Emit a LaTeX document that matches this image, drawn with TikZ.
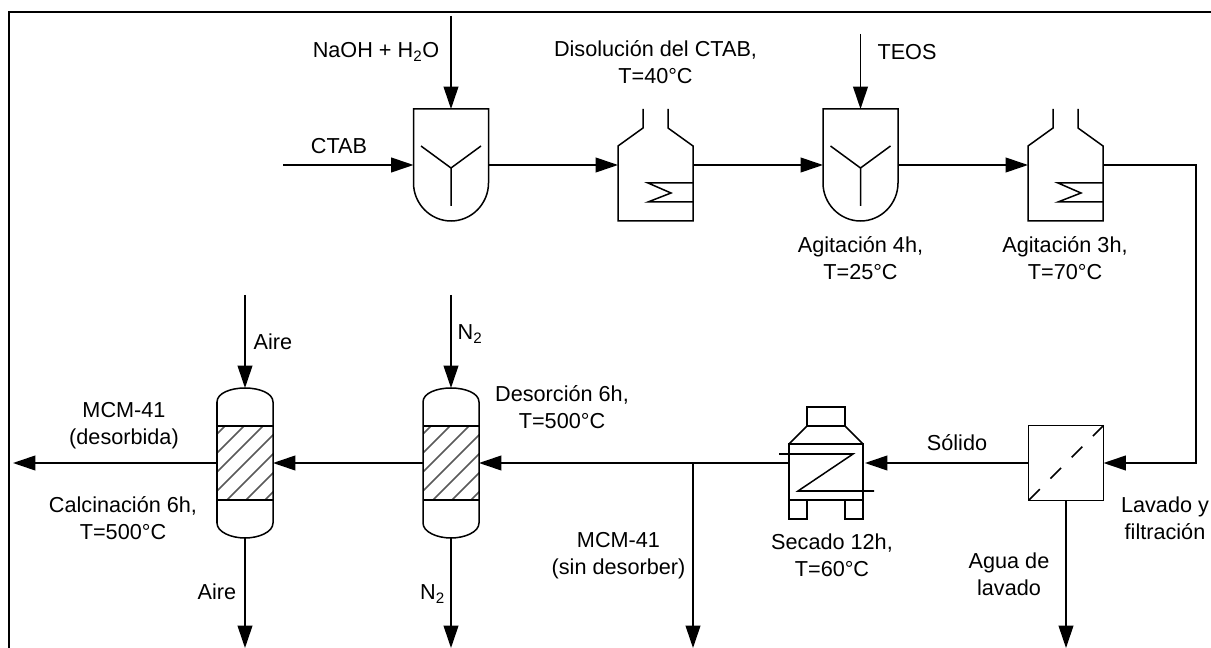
\documentclass[tikz,border=0pt]{standalone}
\usepackage{fontspec}
\setmainfont{Liberation Sans}
\usetikzlibrary{arrows.meta}
\tikzset{
  unit/.style={inner sep=0pt,outer sep=0pt,minimum width=#1*0.025cm,minimum height=#1*0.025cm},
  vert/.style={inner sep=0pt,outer sep=0pt,minimum width=#1*0.025cm,minimum height=112*0.025cm},
  tall/.style={inner sep=0pt,outer sep=0pt,minimum width=56*0.025cm,minimum height=150*0.025cm},
  stream/.style={-{Triangle[length=5.6mm,width=3.7mm]}},
  lbl/.style={align=center,inner sep=0pt,font=\fontsize{15.4}{19.2}\selectfont},
  pics/mixerpic/.style={code={
    \draw (-37.5,-56) -- (37.5,-56) -- (37.5,18)
      .. controls (37.5,38.7) and (20.7,56) .. (0,56)
      .. controls (-20.7,56) and (-37.5,38.7) .. (-37.5,18) -- cycle;
    \draw (-30,-19) -- (0,3) -- (30,-19) (0,3) -- (0,41);
  }},
  pics/vesselpic/.style={code={
    \draw (-12.5,-56) -- (-12.5,-37) -- (-37.5,-19) -- (-37.5,56) -- (37.5,56)
      -- (37.5,-19) -- (12.5,-37) -- (12.5,-56);
    \draw (37.5,18) -- (-7.5,18) -- (15.5,28) -- (-7.5,37) -- (37.5,37);
  }},
  pics/columnpic/.style={code={
    \begin{scope}
      \clip (-28,-37) rectangle (28,37);
      \foreach \k in {-57,-38,-19,0,19,38,57}
        \draw[gray!70!black] (\k-40,40) -- (\k+40,-40);
    \end{scope}
    \draw (-28,-61) .. controls (-28,-70) and (-14,-75) .. (0,-75)
      .. controls (14,-75) and (28,-70) .. (28,-61) -- (28,60)
      .. controls (28,69) and (14,75) .. (0,75)
      .. controls (-14,75) and (-28,69) .. (-28,60) -- cycle;
    \draw (-28,-37) -- (28,-37) (-28,37) -- (28,37);
  }},
  pics/dryerpic/.style={code={
    \draw (-37,-19) rectangle (37,37);
    \draw (-37,-19) -- (-19,-37) -- (19,-37) -- (37,-19);
    \draw (-19,-37) rectangle (19,-56);
    \draw (-37,37) rectangle (-19,56) (19,37) rectangle (37,56);
    \draw (-47,-9) -- (27,-9) -- (-28,28) -- (48,28);
  }},
  pics/filterpic/.style={code={
    \draw (-37.5,-37.5) rectangle (37.5,37.5);
    \draw[dash pattern=on 0.375cm off 0.375cm] (37.5,-37.5) -- (-37.5,37.5);
  }}
}

\begin{document}
\begin{tikzpicture}[x=0.025cm,y=-0.025cm,line width=1.07pt]
\useasboundingbox (0,0) rectangle (1211,648);
\draw[line width=1.8pt] (9,648) -- (9,12) -- (1211,12);

% equipment
\node[vert=75] (mix1) at (451,165) {};
\node[vert=75] (ves1) at (655.5,165) {};
\node[vert=75] (mix2) at (860.5,165) {};
\node[vert=75] (ves2) at (1065.5,165) {};
\node[unit=75] (filt) at (1066,463) {};
\node[vert=74] (dry) at (826,463) {};
\node[tall] (col2) at (451,463) {};
\node[tall] (col1) at (245,463) {};
\pic at (mix1) {mixerpic};
\pic at (ves1) {vesselpic};
\pic at (mix2) {mixerpic};
\pic at (ves2) {vesselpic};
\pic at (filt) {filterpic};
\pic at (dry) {dryerpic};
\pic at (col2) {columnpic};
\pic at (col1) {columnpic};

% free ends
\coordinate (naoh) at (451,16);
\coordinate (ctab) at (283,165);
\coordinate (teos) at (860.5,34);
\coordinate (corner1) at (1196,165);
\coordinate (corner2) at (1196,463);
\coordinate (n2in) at (451,295);
\coordinate (airein) at (245,295);
\coordinate (branch) at (693,463);
\coordinate (prod1) at (13,463);
\coordinate (aireout) at (245,648);
\coordinate (n2out) at (451,648);
\coordinate (prod2) at (693,648);
\coordinate (water) at (1066,648);

\draw[stream] (naoh) -- (mix1.north);
\draw[stream] (ctab) -- (mix1.west);
\draw[stream] (mix1.east) -- (ves1.west);
\draw[stream] (ves1.east) -- (mix2.west);
\draw[stream] (teos) -- (mix2.north);
\draw[stream] (mix2.east) -- (ves2.west);
\draw[stream] (ves2.east) -- (corner1) -- (corner2) -- (filt.east);
\draw[stream,shorten >=0.05cm] (filt.west) -- (dry.east);
\draw[stream] (dry.west) -- (col2.east);
\draw[stream] (col2.west) -- (col1.east);
\draw[stream] (col1.west) -- (prod1);
\draw[stream] (n2in) -- (col2.north);
\draw[stream] (airein) -- (col1.north);
\draw[stream] (col1.south) -- (aireout);
\draw[stream] (col2.south) -- (n2out);
\draw[stream] (branch) -- (prod2);
\draw[stream] (filt.south) -- (water);

% labels
\node[lbl] (lnaoh) at (376,52) {NaOH + H\textsubscript{2}O};
\node[lbl] (lctab) at (339,146) {CTAB};
\node[lbl] (ldis) at (655.5,62.5) {Disolución del CTAB,\\T=40°C};
\node[lbl] (lteos) at (907,52) {TEOS};
\node[lbl] (lag4) at (860.5,258) {Agitación 4h,\\T=25°C};
\node[lbl] (lag3) at (1065,258.5) {Agitación 3h,\\T=70°C};
\node[lbl] (laire1) at (273,342) {Aire};
\node[lbl] (ln21) at (470,334) {N\textsubscript{2}};
\node[lbl] (ldes) at (562,407) {Desorción 6h,\\T=500°C};
\node[lbl] (lmcm1) at (124,425.5) {MCM-41\\(desorbida)};
\node[lbl] (lcal) at (123,518) {Calcinación 6h,\\T=500°C};
\node[lbl] (laire2) at (217,592) {Aire};
\node[lbl] (ln22) at (432.5,594) {N\textsubscript{2}};
\node[lbl] (lmcm2) at (618.5,556) {MCM-41\\(sin desorber)};
\node[lbl] (lsec) at (832,555.5) {Secado 12h,\\T=60°C};
\node[lbl] (lsol) at (957,443) {Sólido};
\node[lbl] (llav) at (1165,518.5) {Lavado y\\filtración};
\node[lbl] (lagua) at (1009,574) {Agua de\\lavado};
\end{tikzpicture}
\end{document}
